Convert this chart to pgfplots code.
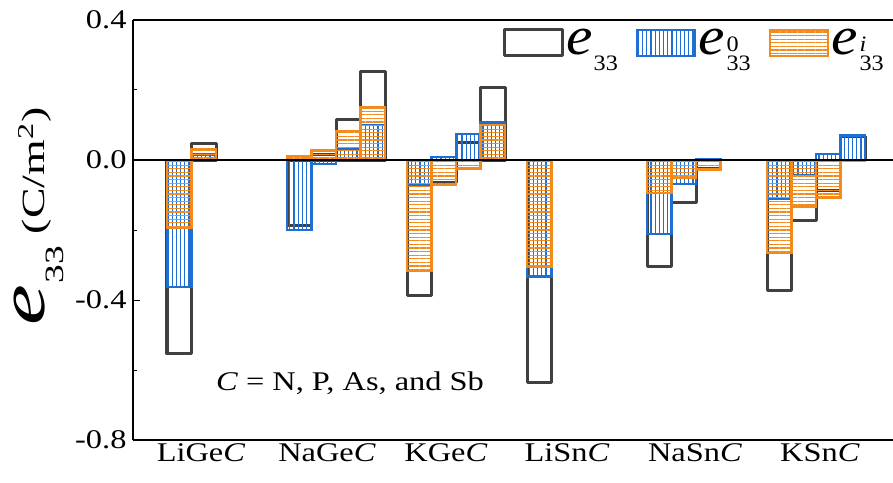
\documentclass[border=0pt]{standalone}
\usepackage{pgfplots}
\pgfplotsset{compat=1.18}
\usepackage{fontspec}
\setmainfont{Liberation Serif}
\usetikzlibrary{patterns.meta}
\definecolor{grayC}{HTML}{404040}
\definecolor{blueC}{HTML}{1F6FD2}
\definecolor{orangeC}{HTML}{F28A1C}
\newcommand{\hs}[1]{\scalebox{1.2}[1]{#1}}
\newcommand{\ebig}{{\fontsize{54}{54}\selectfont\textit{e}}}
\newcommand{\subsz}{\fontsize{22}{22}\selectfont}
\newcommand{\eplain}{\ebig\kern1pt\raisebox{-16pt}{\subsz 33}}
\newcommand{\eA}{\scalebox{1.1}[1]{\eplain}}
\newcommand{\eB}[1]{\scalebox{1.1}[1]{\ebig\kern2pt\raisebox{-16pt}{\subsz\begin{tabular}[b]{@{}l@{}}#1\\[-3pt]33\end{tabular}}}}
\pgfplotsset{mylegend/.style={legend image code/.code={\draw[##1] (0pt,-13pt) rectangle (58pt,13pt);}}}
\begin{document}
\begin{tikzpicture}
\begin{axis}[
  scale only axis, width=760pt, height=420pt,
  xmin=133, xmax=893, ymin=-0.8, ymax=0.4,
  axis lines*=left, axis line style={-, line width=1.2pt, black},
  ybar, bar width=24.5, bar shift=0pt,
  ytick={-0.8,-0.4,0,0.4}, minor ytick={-0.6,-0.2,0.2},
  tick align=inside, major tick length=7pt, minor tick length=4pt,
  every tick/.style={black, line width=1pt},
  xtick={201,327,446,567,695,820},
  xticklabels={\hs{LiGe\textit{C}}, \hs{NaGe\textit{C}}, \hs{KGe\textit{C}}, \hs{LiSn\textit{C}}, \hs{NaSn\textit{C}}, \hs{KSn\textit{C}}},
  x tick style={draw=none},
  tick label style={font=\fontsize{27}{32}\selectfont},
  yticklabel={\hs{\pgfmathprintnumber[fixed, fixed zerofill, precision=1, assume math mode=true]{\tick}}},
  yticklabel style={xshift=-3pt},
  ylabel={\scalebox{1.7}[1.2]{\eplain\ (C/m\textsuperscript{2})}},
  ylabel style={at={(rel axis cs:-0.124,0.532)}, anchor=center, inner sep=0pt, font=\fontsize{27}{32}\selectfont},
  legend style={at={(axis cs:500,0.385)}, anchor=north west, draw=none, fill=none,
    legend columns=3, font=\fontsize{27}{32}\selectfont,
    /tikz/every even column/.append style={column sep=16pt}},
]
\addplot[draw=grayC, fill=white, line width=3pt, line join=round, mylegend] coordinates {
(179.25,-0.554) (203.75,0.048)
(299.25,-0.188) (323.75,0.015) (348.25,0.116) (372.75,0.252)
(419.25,-0.386) (443.75,-0.063) (468.25,0.050) (492.75,0.208)
(539.25,-0.636)
(659.25,-0.303) (683.75,-0.120) (708.25,-0.024)
(779.25,-0.373) (803.75,-0.173) (828.25,-0.088) (852.75,0.067)
};
\addlegendentry{\eA}
\addplot[draw=blueC, line width=2.2pt, pattern={Lines[angle=90,distance=4.2pt,line width=1.3pt]}, pattern color=blueC, mylegend] coordinates {
(179.25,-0.362) (203.75,0.016)
(299.25,-0.200) (323.75,-0.012) (348.25,0.033) (372.75,0.100)
(419.25,-0.073) (443.75,0.008) (468.25,0.074) (492.75,0.107)
(539.25,-0.333)
(659.25,-0.211) (683.75,-0.068) (708.25,0.003)
(779.25,-0.112) (803.75,-0.043) (828.25,0.017) (852.75,0.070)
};
\addlegendentry{\eB{0}}
\addplot[draw=orangeC, line width=2.2pt, pattern={Lines[angle=0,distance=3.6pt,line width=1.3pt]}, pattern color=orangeC, mylegend] coordinates {
(179.25,-0.195) (203.75,0.032)
(299.25,0.012) (323.75,0.027) (348.25,0.083) (372.75,0.150)
(419.25,-0.316) (443.75,-0.071) (468.25,-0.024) (492.75,0.101)
(539.25,-0.306)
(659.25,-0.095) (683.75,-0.052) (708.25,-0.027)
(779.25,-0.265) (803.75,-0.133) (828.25,-0.107) (852.75,-0.003)
};
\addlegendentry{\eB{\textit{i}}}
\addplot[sharp plot, black, line width=1.1pt, forget plot] coordinates {(133,0) (893,0)};
\draw[black, line width=1.2pt] (rel axis cs:0,1) -- (rel axis cs:1,1);
\node[font=\fontsize{27}{32}\selectfont] at (axis cs:350,-0.637) {\hs{\textit{C} = N, P, As, and Sb}};
\end{axis}
\pgfresetboundingbox
\useasboundingbox ([shift={(-133pt,-42pt)}]current axis.south west) rectangle ([shift={(0pt,20pt)}]current axis.north east);
\end{tikzpicture}
\end{document}
